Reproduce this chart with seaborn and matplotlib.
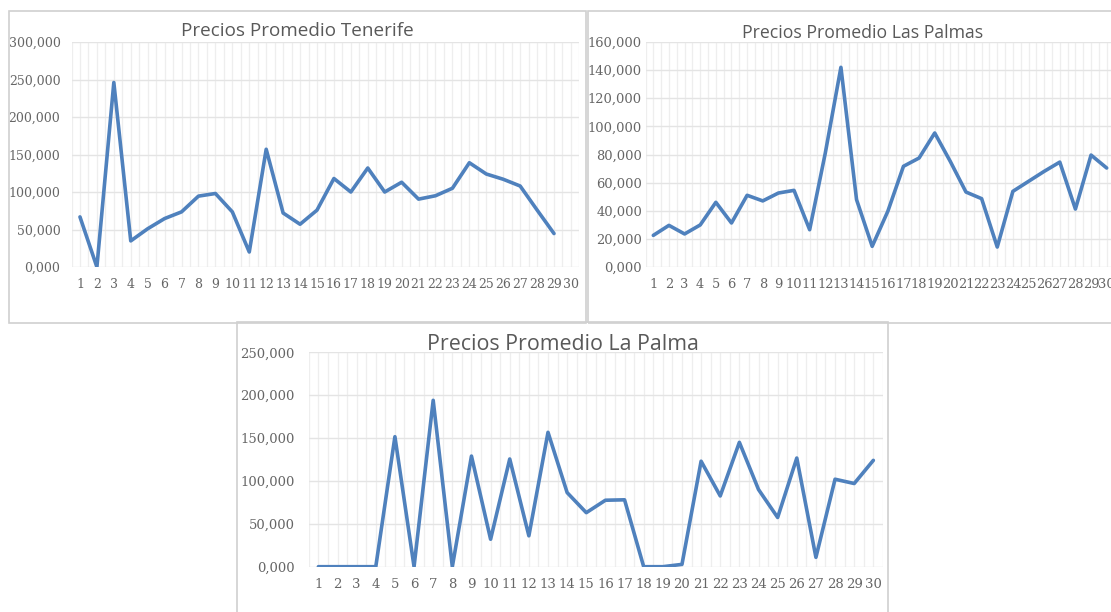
import numpy as np
import pandas as pd
import matplotlib
matplotlib.use("Agg")
import matplotlib.pyplot as plt
import seaborn as sns
from matplotlib.patches import Rectangle
from matplotlib.ticker import FuncFormatter, MultipleLocator

# Data
dias = list(range(1, 31))
tenerife = [66.8, 0.0, 246.0, 34.8, 51.0, 64.6, 73.5, 94.5, 98.0, 73.5,
            20.0, 157.0, 72.0, 57.0, 75.8, 118.0, 100.0, 132.0, 100.0, 113.0,
            90.5, 95.0, 105.0, 139.0, 124.0, 117.0, 108.0, 76.0, 44.6, np.nan]
las_palmas = [22.5, 29.6, 23.5, 29.9, 46.0, 31.3, 51.0, 47.0, 52.6, 54.5,
              26.5, 81.0, 142.0, 47.9, 14.7, 39.6, 71.6, 77.5, 95.3, 75.0,
              53.3, 48.6, 14.2, 53.8, 60.9, 68.0, 74.6, 41.2, 79.6, 70.4]
la_palma = [0.0, 0.0, 0.0, 0.0, 151.6, 0.0, 194.0, 0.0, 129.0, 32.0,
            125.6, 36.0, 156.7, 86.4, 63.0, 77.5, 78.0, 0.0, 0.0, 2.7,
            123.0, 82.5, 145.0, 90.0, 57.4, 126.7, 10.9, 102.0, 97.0, 124.0]

W, H = 1111, 612
GRAY = "#595959"
BLUE = "#4F81BD"

sns.set_style("white")
plt.rcParams["font.family"] = ["DejaVu Serif"]

fig = plt.figure(figsize=(W / 100, H / 100), dpi=100)


def px_box(left, top, right, bottom):
    return [left / W, 1 - bottom / H, (right - left) / W, (bottom - top) / H]


def frame(left, top, right, bottom):
    x, y, w, h = px_box(left, top, right, bottom)
    fig.patches.append(Rectangle((x, y), w, h, transform=fig.transFigure,
                                 fill=False, edgecolor="#D0D0D0", lw=1.2))


def draw(values, box, ymax, ystep, title, title_xy, title_size, tick_size, ypad):
    ax = fig.add_axes(px_box(*box))
    df = pd.DataFrame({"dia": dias, "precio": values})
    sns.lineplot(data=df, x="dia", y="precio", ax=ax, color=BLUE, lw=2.6)
    ax.set_xlim(0.5, 30.5)
    ax.set_ylim(0, ymax)
    ax.set_xticks(dias)
    ax.set_xticklabels([str(d) for d in dias])
    ax.yaxis.set_major_locator(MultipleLocator(ystep))
    ax.yaxis.set_major_formatter(FuncFormatter(lambda v, p: f"{v:.3f}".replace(".", ",")))
    # vertical grid at every half category
    for xv in np.arange(0.5, 30.51, 0.5):
        ax.axvline(xv, color="#EEEEEE", lw=0.9, zorder=0)
    for yv in np.arange(0, ymax + 0.1, ystep):
        ax.axhline(yv, color="#E4E4E4", lw=1.0, zorder=0)
    for s in ax.spines.values():
        s.set_visible(False)
    ax.tick_params(axis="both", length=0, labelsize=tick_size, colors="#666666")
    ax.tick_params(axis="y", pad=ypad)
    ax.tick_params(axis="x", pad=8)
    ax.set_xlabel("")
    ax.set_ylabel("")
    fig.text(title_xy[0] / W, 1 - title_xy[1] / H, title, ha="center", va="center",
             fontsize=title_size, color=GRAY, family=["Open Sans", "DejaVu Sans"])
    return ax


frame(9, 11, 586, 323)
frame(588, 11, 1125, 323)
frame(237, 322, 888, 625)

draw(tenerife, (71.5, 42, 579.4, 267), 300, 50, "Precios Promedio Tenerife", (297, 31),
     13.6, 9, 8)
draw(las_palmas, (645.5, 42, 1114.5, 267), 160, 20, "Precios Promedio Las Palmas", (863, 33),
     12.7, 9.4, 2.5)
draw(la_palma, (308.8, 352.3, 882.9, 566.7), 250, 50, "Precios Promedio La Palma", (563, 344),
     15.4, 9.5, 10)

fig.savefig("out.png", dpi=100)
